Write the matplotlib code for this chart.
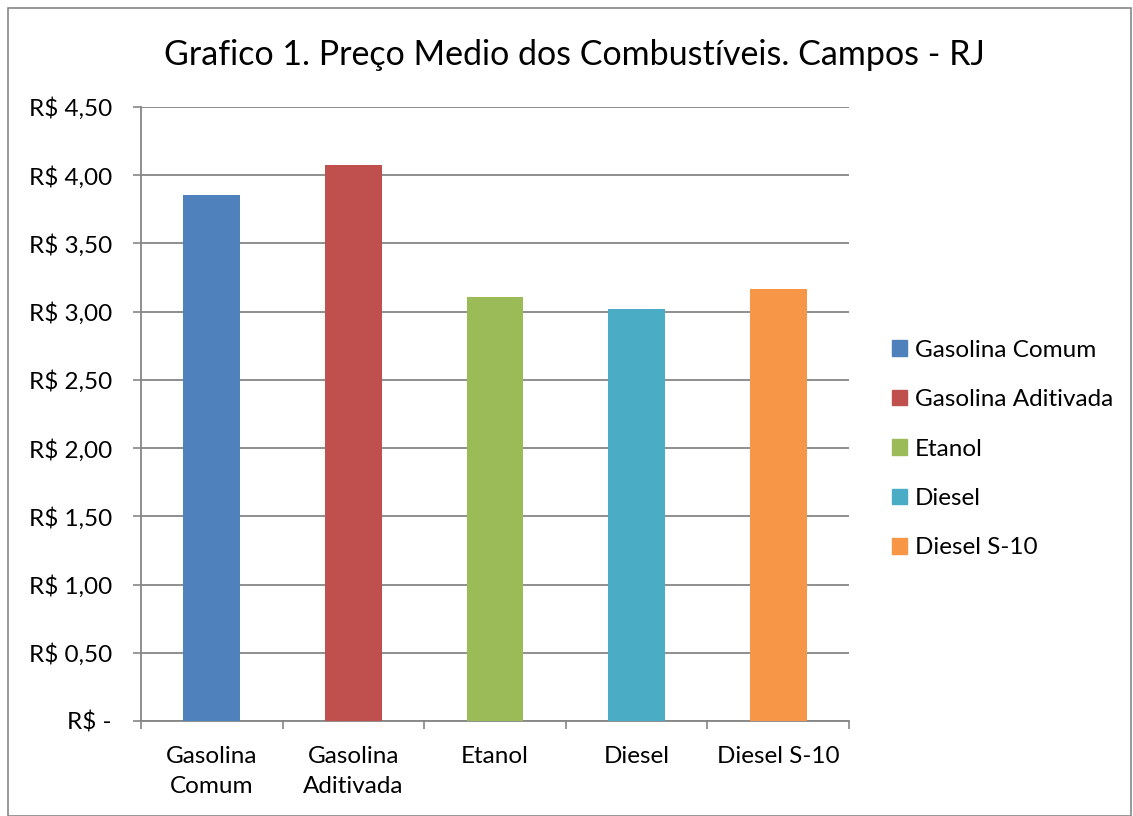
import matplotlib.pyplot as plt
from matplotlib.patches import Rectangle, Patch
from matplotlib.ticker import FuncFormatter

# Data
categories = ['Gasolina\nComum', 'Gasolina\nAditivada', 'Etanol', 'Diesel', 'Diesel S-10']
legend_labels = ['Gasolina Comum', 'Gasolina Aditivada', 'Etanol', 'Diesel', 'Diesel S-10']
prices = [3.857, 4.072, 3.105, 3.017, 3.163]
colors = ['#4F81BD', '#C0504D', '#9BBB59', '#4BACC6', '#F79646']
y_ticks = [0, 0.5, 1.0, 1.5, 2.0, 2.5, 3.0, 3.5, 4.0, 4.5]

plt.rcParams['font.family'] = ['Lato', 'DejaVu Sans']

W, H = 1133, 816
fig = plt.figure(figsize=(W / 100, H / 100), dpi=100)
ax = fig.add_axes([141 / W, 1 - 721 / H, (849 - 141) / W, (721 - 107) / H])

x = range(len(categories))
ax.bar(x, prices, width=0.4, color=colors, zorder=3)

ax.set_xlim(-0.5, len(categories) - 0.5)
ax.set_ylim(0, 4.5)
ax.set_yticks(y_ticks)


def brl(v, pos):
    if v == 0:
        return 'R$ -'
    return 'R$ ' + f'{v:.2f}'.replace('.', ',')


ax.yaxis.set_major_formatter(FuncFormatter(brl))
ax.set_xticks(list(x))
ax.set_xticklabels(categories, fontsize=17.5, linespacing=1.55)
ax.set_xticks([i - 0.5 for i in range(len(categories) + 1)], minor=True)
ax.tick_params(axis='x', which='major', length=0, pad=18)
ax.tick_params(axis='x', which='minor', length=6, width=1.2, color='#868686')
ax.tick_params(axis='y', length=6, width=1.2, color='#868686', labelsize=17.5, pad=15)

ax.grid(axis='y', color='#868686', linewidth=1.3, zorder=0)
for side in ['top', 'right']:
    ax.spines[side].set_visible(False)
for side in ['left', 'bottom']:
    ax.spines[side].set_color('#868686')
    ax.spines[side].set_linewidth(1.3)

fig.text(574 / W, 1 - 55 / H, 'Grafico 1. Preço Medio dos Combustíveis. Campos - RJ',
         ha='center', va='center', fontsize=24.5)

handles = [Patch(color=c) for c in colors]
fig.legend(handles, legend_labels, loc='center left', bbox_to_anchor=(880 / W, 1 - 449 / H),
           frameon=False, fontsize=17.5, handlelength=0.62, handleheight=0.62,
           handletextpad=0.3, labelspacing=1.17, borderpad=0)

fig.patches.append(Rectangle((8 / W, 0), (W - 10) / W, 1 - 8 / H, transform=fig.transFigure,
                             fill=False, edgecolor='#868686', linewidth=1.2))

fig.savefig('out.png', dpi=100)
